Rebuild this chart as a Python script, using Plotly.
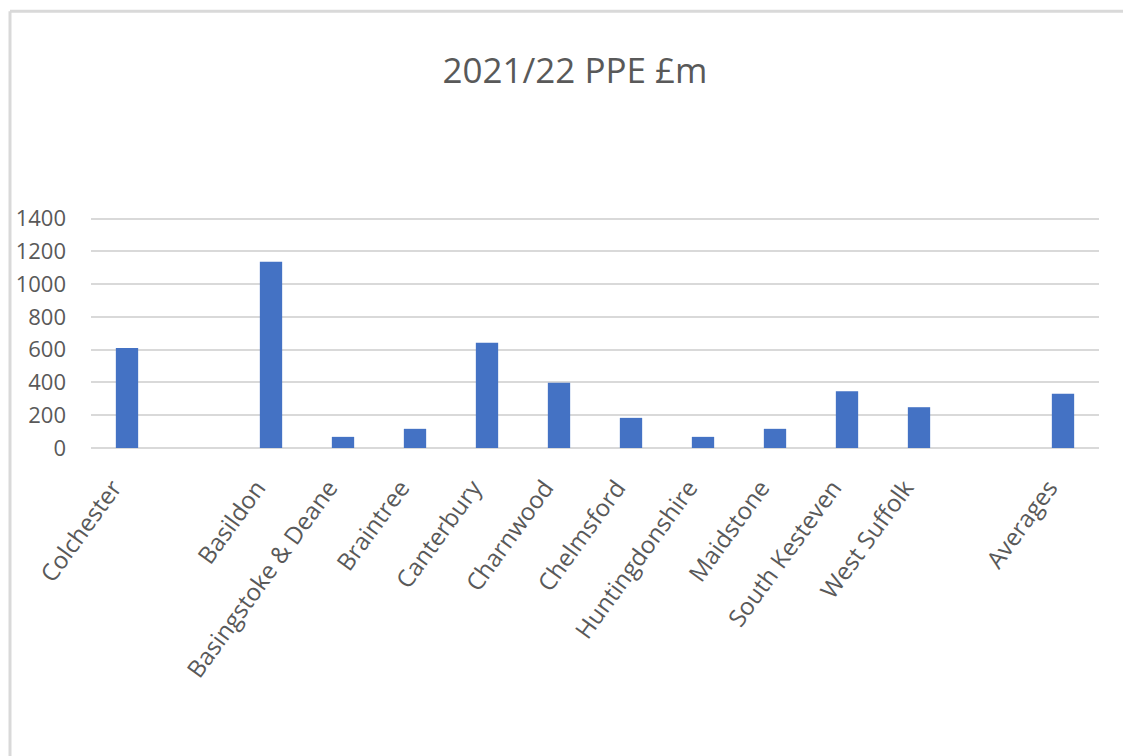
import plotly.graph_objects as go

# Data (blank categories keep the gaps seen in the original chart)
categories = ["Colchester", " ", "Basildon", "Basingstoke & Deane", "Braintree",
              "Canterbury", "Charnwood", "Chelmsford", "Huntingdonshire",
              "Maidstone", "South Kesteven", "West Suffolk", "  ", "Averages"]
ppe_values = [611, None, 1137, 68, 117, 642, 398, 184, 68, 117, 347, 249, None, 331]
y_ticks = [0, 200, 400, 600, 800, 1000, 1200, 1400]

W, H = 1131, 756
OFF = 8  # page body offset
y_max = 1410
px_per_unit = 229 / 1400
ph = y_max * px_per_unit
L = 91 - OFF
pw = 1008
R = W - L - pw
T = 448 - OFF - ph
B = H - T - ph

fig = go.Figure(go.Bar(
    x=categories, y=ppe_values,
    marker=dict(color="#4472C4", line=dict(width=0)),
    hoverinfo="x+y",
))

fig.update_layout(
    width=W, height=H,
    margin=dict(l=L, r=R, t=T, b=B, autoexpand=False),
    paper_bgcolor="white", plot_bgcolor="white",
    bargap=0.69,
    showlegend=False,
    font=dict(family="Open Sans, Lato, sans-serif", color="#595959"),
    title=dict(text="2021/22 PPE £m", x=(575 - OFF) / W, xanchor="center",
               y=1 - (71 - OFF) / H, yanchor="middle",
               font=dict(size=35, color="#595959",
                         family="Open Sans, Lato, sans-serif")),
    xaxis=dict(type="category", tickangle=-54, showgrid=False,
               showline=False, ticks="", zeroline=False,
               ticklabelstandoff=20, ticklabelshift=-14,
               tickfont=dict(size=24, color="#595959")),
    yaxis=dict(range=[0, y_max], tickvals=y_ticks, showgrid=True,
               gridcolor="#d9d9d9", gridwidth=2, zeroline=True,
               zerolinecolor="#d9d9d9", zerolinewidth=2,
               showline=False, ticks="", ticklabelstandoff=24,
               tickfont=dict(size=22, color="#595959")),
)

# Chart frame lines (left and top border of the original screenshot)
x_left = (10 - OFF - L) / pw
y_top = (H - B - (12 - OFF)) / ph
y_bot = (H - B - H) / ph
fig.add_shape(type="line", xref="paper", yref="paper", x0=x_left, x1=x_left,
              y0=y_bot, y1=y_top, line=dict(color="#d9d9d9", width=3))
fig.add_shape(type="line", xref="paper", yref="paper", x0=x_left,
              x1=(W - L) / pw, y0=y_top, y1=y_top,
              line=dict(color="#d9d9d9", width=3))

fig.write_html("out.html")
